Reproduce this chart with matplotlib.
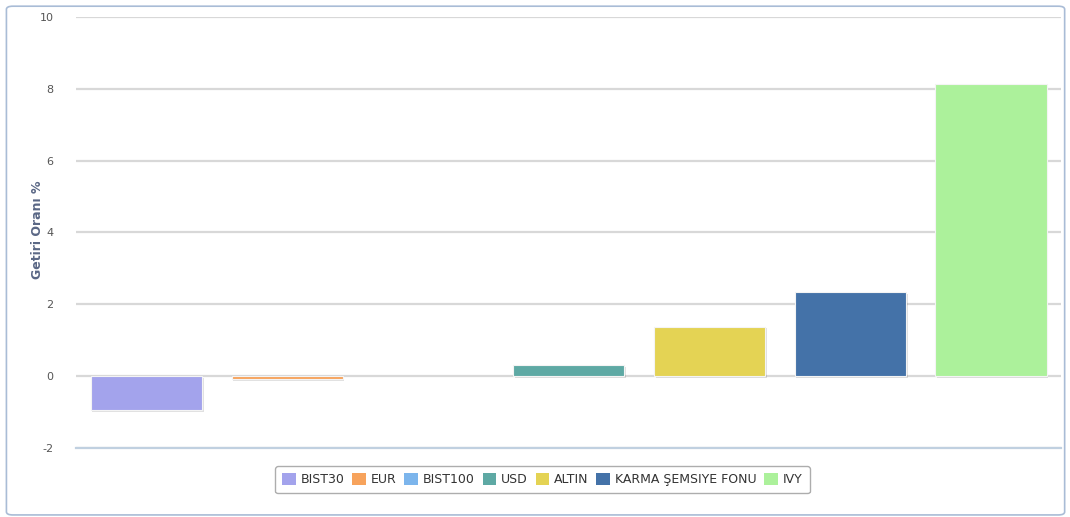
import numpy as np
import matplotlib.pyplot as plt
import matplotlib.patheffects as pe
from matplotlib.patches import FancyBboxPatch, Patch

plt.rcParams['axes.unicode_minus'] = False

labels = ["BIST30", "EUR", "BIST100", "USD", "ALTIN", "KARMA ŞEMSIYE FONU", "IVY"]
values = [-0.95, -0.09, 0.0, 0.30, 1.38, 2.33, 8.12]
colors = ["#a3a3ec", "#f7a35c", "#7cb5ec", "#5ea9a4", "#e4d354", "#4472a8", "#acf19b"]

fig = plt.figure(figsize=(10.7, 5.17), dpi=100)
ax = fig.add_axes([0.071, 0.1335, 0.921, 0.8337])

# outer rounded frame
frame = FancyBboxPatch((0.006, 0.004), 0.989, 0.984, boxstyle="round,pad=0,rounding_size=0.006",
                       transform=fig.transFigure, fill=False, edgecolor="#a9bcd6", linewidth=1.2)
fig.patches.append(frame)

x = np.arange(len(values))
bars = ax.bar(x, values, width=0.79, color=colors, edgecolor="#f4f4f4", linewidth=0.8, zorder=3)
for b, v in zip(bars, values):
    if v == 0:
        b.set_visible(False)
        continue
    b.set_path_effects([pe.SimplePatchShadow(offset=(1.2, -1.2), shadow_rgbFace="#000000", alpha=0.12), pe.Normal()])

ax.set_xlim(-0.5, len(values) - 0.5)
ax.set_ylim(-2, 10)
ax.set_yticks([-2, 0, 2, 4, 6, 8, 10])
ax.set_xticks([])
ax.grid(axis="y", color="#d8d8d8", linewidth=1.6, zorder=0)
for s in ["top", "right", "left"]:
    ax.spines[s].set_visible(False)
ax.spines["bottom"].set_color("#c0d0e0")
ax.spines["bottom"].set_linewidth(1.6)
ax.tick_params(axis="y", length=0, labelsize=8, labelcolor="#555555", pad=16)
ax.axhline(0, color="#c8c8c8", linewidth=1.2, zorder=1)

fig.text(0.035, 0.555, "Getiri Oranı %", rotation=90, ha="center", va="center",
         fontsize=9, fontweight="bold", color="#5a6785")

handles = [Patch(facecolor=c, edgecolor="none") for c in colors]
leg = fig.legend(handles, labels, loc="center", bbox_to_anchor=(0.507, 0.072), ncol=7,
                 frameon=True, fontsize=9, handlelength=1.1, handleheight=1.1, handletextpad=0.4,
                 columnspacing=0.6, borderpad=0.55, fancybox=True, labelcolor="#333333")
leg.get_frame().set_edgecolor("#999999")
leg.get_frame().set_linewidth(1.0)

fig.savefig("out.png", dpi=100)
